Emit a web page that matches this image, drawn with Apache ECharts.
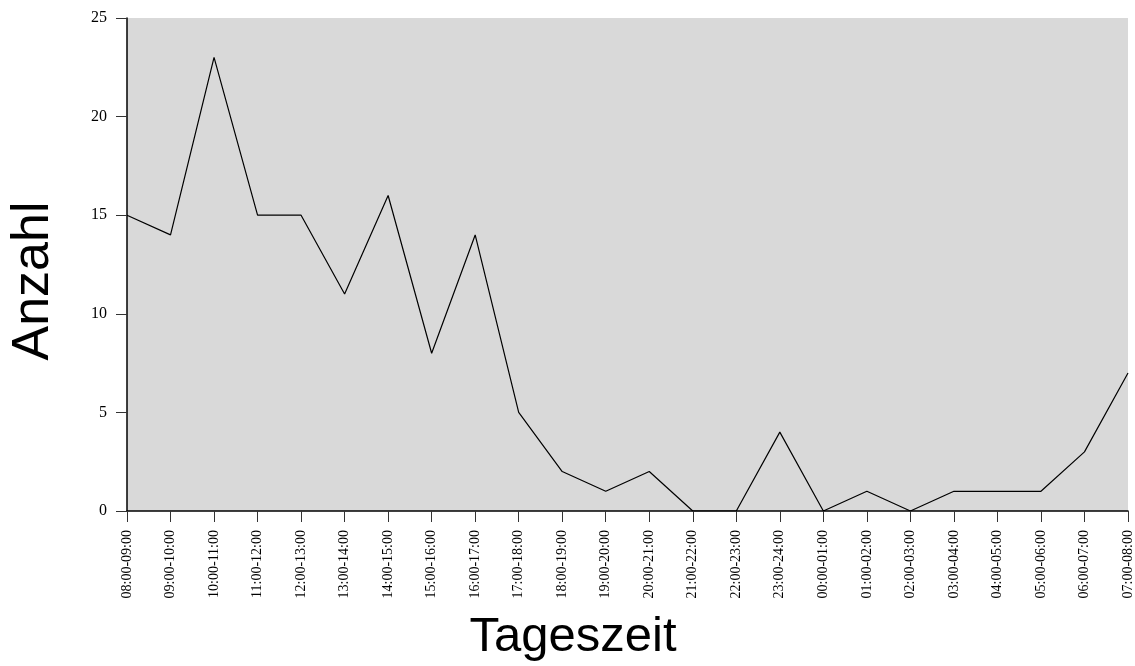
<!DOCTYPE html>
<html>
<head>
<meta charset="utf-8">
<script src="https://cdn.jsdelivr.net/npm/echarts@6/dist/echarts.min.js"></script>
<style>
  html, body { margin: 0; padding: 0; background: #ffffff; }
  #chart { width: 1135px; height: 666px; }
</style>
</head>
<body>
<div id="chart"></div>
<script>
// Hourly time slots (from 08:00 through to 08:00 next day)
const timeSlots = [
  '08:00-09:00', '09:00-10:00', '10:00-11:00', '11:00-12:00', '12:00-13:00',
  '13:00-14:00', '14:00-15:00', '15:00-16:00', '16:00-17:00', '17:00-18:00',
  '18:00-19:00', '19:00-20:00', '20:00-21:00', '21:00-22:00', '22:00-23:00',
  '23:00-24:00', '00:00-01:00', '01:00-02:00', '02:00-03:00', '03:00-04:00',
  '04:00-05:00', '05:00-06:00', '06:00-07:00', '07:00-08:00'
];

// Count per time slot
const counts = [15, 14, 23, 15, 15, 11, 16, 8, 14, 5, 2, 1, 2, 0, 0, 4, 0, 1, 0, 1, 1, 1, 3, 7];

// Value axis range
const yMin = 0;
const yMax = 25;
const yStep = 5;

const xTitle = 'Tageszeit';
const yTitle = 'Anzahl';

const chart = echarts.init(document.getElementById('chart'), null, { renderer: 'canvas' });

chart.setOption({
  animation: false,
  backgroundColor: '#ffffff',
  grid: {
    left: 127,
    right: 7,
    top: 18,
    bottom: 155,
    show: true,
    backgroundColor: '#d9d9d9',
    borderWidth: 0
  },
  xAxis: {
    type: 'category',
    data: timeSlots,
    boundaryGap: false,
    axisLine: { show: true, lineStyle: { color: '#000000', width: 1.5 } },
    axisTick: { show: true, alignWithLabel: true, length: 11, lineStyle: { color: '#333333', width: 1 } },
    axisLabel: {
      interval: 0,
      rotate: 90,
      margin: 19,
      color: '#000000',
      fontFamily: 'Liberation Serif',
      fontSize: 14
    },
    splitLine: { show: false }
  },
  yAxis: {
    type: 'value',
    min: yMin,
    max: yMax,
    interval: yStep,
    axisLine: { show: true, lineStyle: { color: '#000000', width: 1.5 } },
    axisTick: { show: true, length: 11, lineStyle: { color: '#333333', width: 1 } },
    axisLabel: {
      margin: 20,
      color: '#000000',
      fontFamily: 'Liberation Serif',
      fontSize: 16
    },
    splitLine: { show: false }
  },
  graphic: [
    {
      type: 'text',
      x: 573,
      y: 637,
      style: {
        text: xTitle,
        fontFamily: 'Liberation Sans',
        fontSize: 49,
        fill: '#000000',
        align: 'center',
        verticalAlign: 'middle'
      }
    },
    {
      type: 'text',
      x: 34,
      y: 281,
      rotation: Math.PI / 2,
      style: {
        text: yTitle,
        fontFamily: 'Liberation Sans',
        fontSize: 52,
        fill: '#000000',
        align: 'center',
        verticalAlign: 'middle'
      }
    }
  ],
  series: [
    {
      type: 'line',
      data: counts,
      symbol: 'none',
      lineStyle: { color: '#000000', width: 1.2 },
      itemStyle: { color: '#000000' }
    }
  ]
});
</script>
</body>
</html>
